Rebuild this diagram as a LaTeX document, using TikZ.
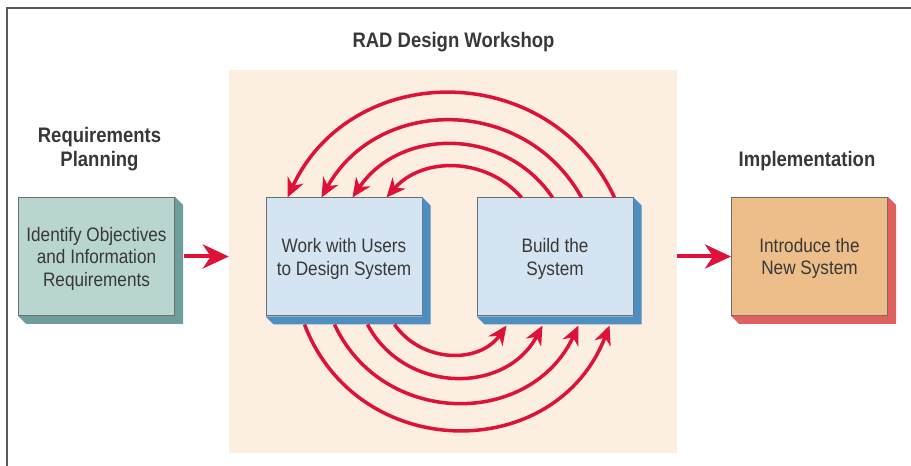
\documentclass[tikz,border=0pt]{standalone}
\usepackage{fontspec}
\setmainfont{Liberation Sans}[FakeStretch=0.88]
\usetikzlibrary{
    arrows.meta,
    calc
}
\definecolor{radred}{HTML}{DE1238}
\definecolor{radpeach}{HTML}{FDEEE2}
\definecolor{radtext}{HTML}{383838}
\definecolor{radframe}{HTML}{5A5A5A}
\definecolor{radedge}{HTML}{6E6E6E}
\definecolor{identfill}{HTML}{B9D5D0}
\definecolor{identshade}{HTML}{6E9E9C}
\definecolor{designfill}{HTML}{D4E4F2}
\definecolor{designshade}{HTML}{4F8EC1}
\definecolor{introfill}{HTML}{EDBD8A}
\definecolor{introshade}{HTML}{E0605F}

\begin{document}
\begin{tikzpicture}[
        x=1pt, y=1pt,
        box/.style={rectangle, draw=radedge, line width=1pt, minimum width=156, minimum height=118, inner sep=0, text depth=0pt, align=center, text=radtext, font=\fontsize{19.5}{22.5}\selectfont},
        heading/.style={inner sep=0, align=center, text=radtext, font=\fontsize{21}{24.5}\selectfont\bfseries},
        flow/.style={-{Stealth[length=26, width=24, inset=8]}, line width=4, radred},
        loop/.style={-{Stealth[length=19, width=17, inset=6]}, line width=3.5, radred}
    ]
        \useasboundingbox (0,0) rectangle (911,466);
        \draw[radframe, line width=2] (7,0) -- (7,458) -- (911,458);

        % Workshop area
        \node[fill=radpeach, minimum width=448, minimum height=383, inner sep=0] (workshop) at (453,204.5) {};
        \node[heading, anchor=base] (title) at (453.5,418) {RAD Design Workshop};

        % Phases
        \node[heading, anchor=north] (planning) at (99.5,339) {Requirements\\Planning};
        \node[heading, anchor=base] (implementation) at (807,299) {Implementation};

        % Boxes
        \node[box, fill=identfill] (ident) at (96.5,209.5) {Identify Objectives\\and Information\\Requirements};
        \node[box, fill=designfill] (work) at (344,209) {Work with Users\\to Design System};
        \node[box, fill=designfill] (build) at (555,209) {Build the\\System};
        \node[box, fill=introfill] (intro) at (809.5,209.5) {Introduce the\\New System};

        % Shadows
        \foreach \n/\c in {ident/identshade, work/designshade, build/designshade, intro/introshade}
            \fill[\c] (\n.north east) -- ++(8,-8) -- ($(\n.south east)+(8,-8)$) -- ($(\n.south west)+(8,-8)$) -- (\n.south west) -- (\n.south east) -- cycle;

        % Arrows
        \draw[flow] ($(ident.east)+(9,0)$) -- (ident.east -| workshop.west);
        \draw[flow] (intro.west -| workshop.east) -- (intro.west);

        % Loops back to design
        \draw[loop] ($(build.north west)+(45,0)$) to[out=131, in=49, looseness=1.03] ($(work.north west)+(121,0)$);
        \draw[loop] ($(build.north west)+(76,0)$) to[out=124, in=56, looseness=1.09] ($(work.north west)+(87,0)$);
        \draw[loop] ($(build.north west)+(105,0)$) to[out=119, in=61, looseness=1.15] ($(work.north west)+(56,0)$);
        \draw[loop] ($(build.north west)+(138,0)$) to[out=115, in=65, looseness=1.2] ($(work.north west)+(22,0)$);

        % Loops forward to build
        \draw[loop] ($(work.south west)+(129,-8)$) to[out=-55, in=235, looseness=1.08] ($(build.south west)+(30,-9)$);
        \draw[loop] ($(work.south west)+(102,-8)$) to[out=-62, in=242, looseness=1.15] ($(build.south west)+(66,-9)$);
        \draw[loop] ($(work.south west)+(69,-8)$) to[out=-65, in=245, looseness=1.19] ($(build.south west)+(102,-9)$);
        \draw[loop] ($(work.south west)+(39,-8)$) to[out=-69, in=249, looseness=1.25] ($(build.south west)+(133,-9)$);
    \end{tikzpicture}
\end{document}
